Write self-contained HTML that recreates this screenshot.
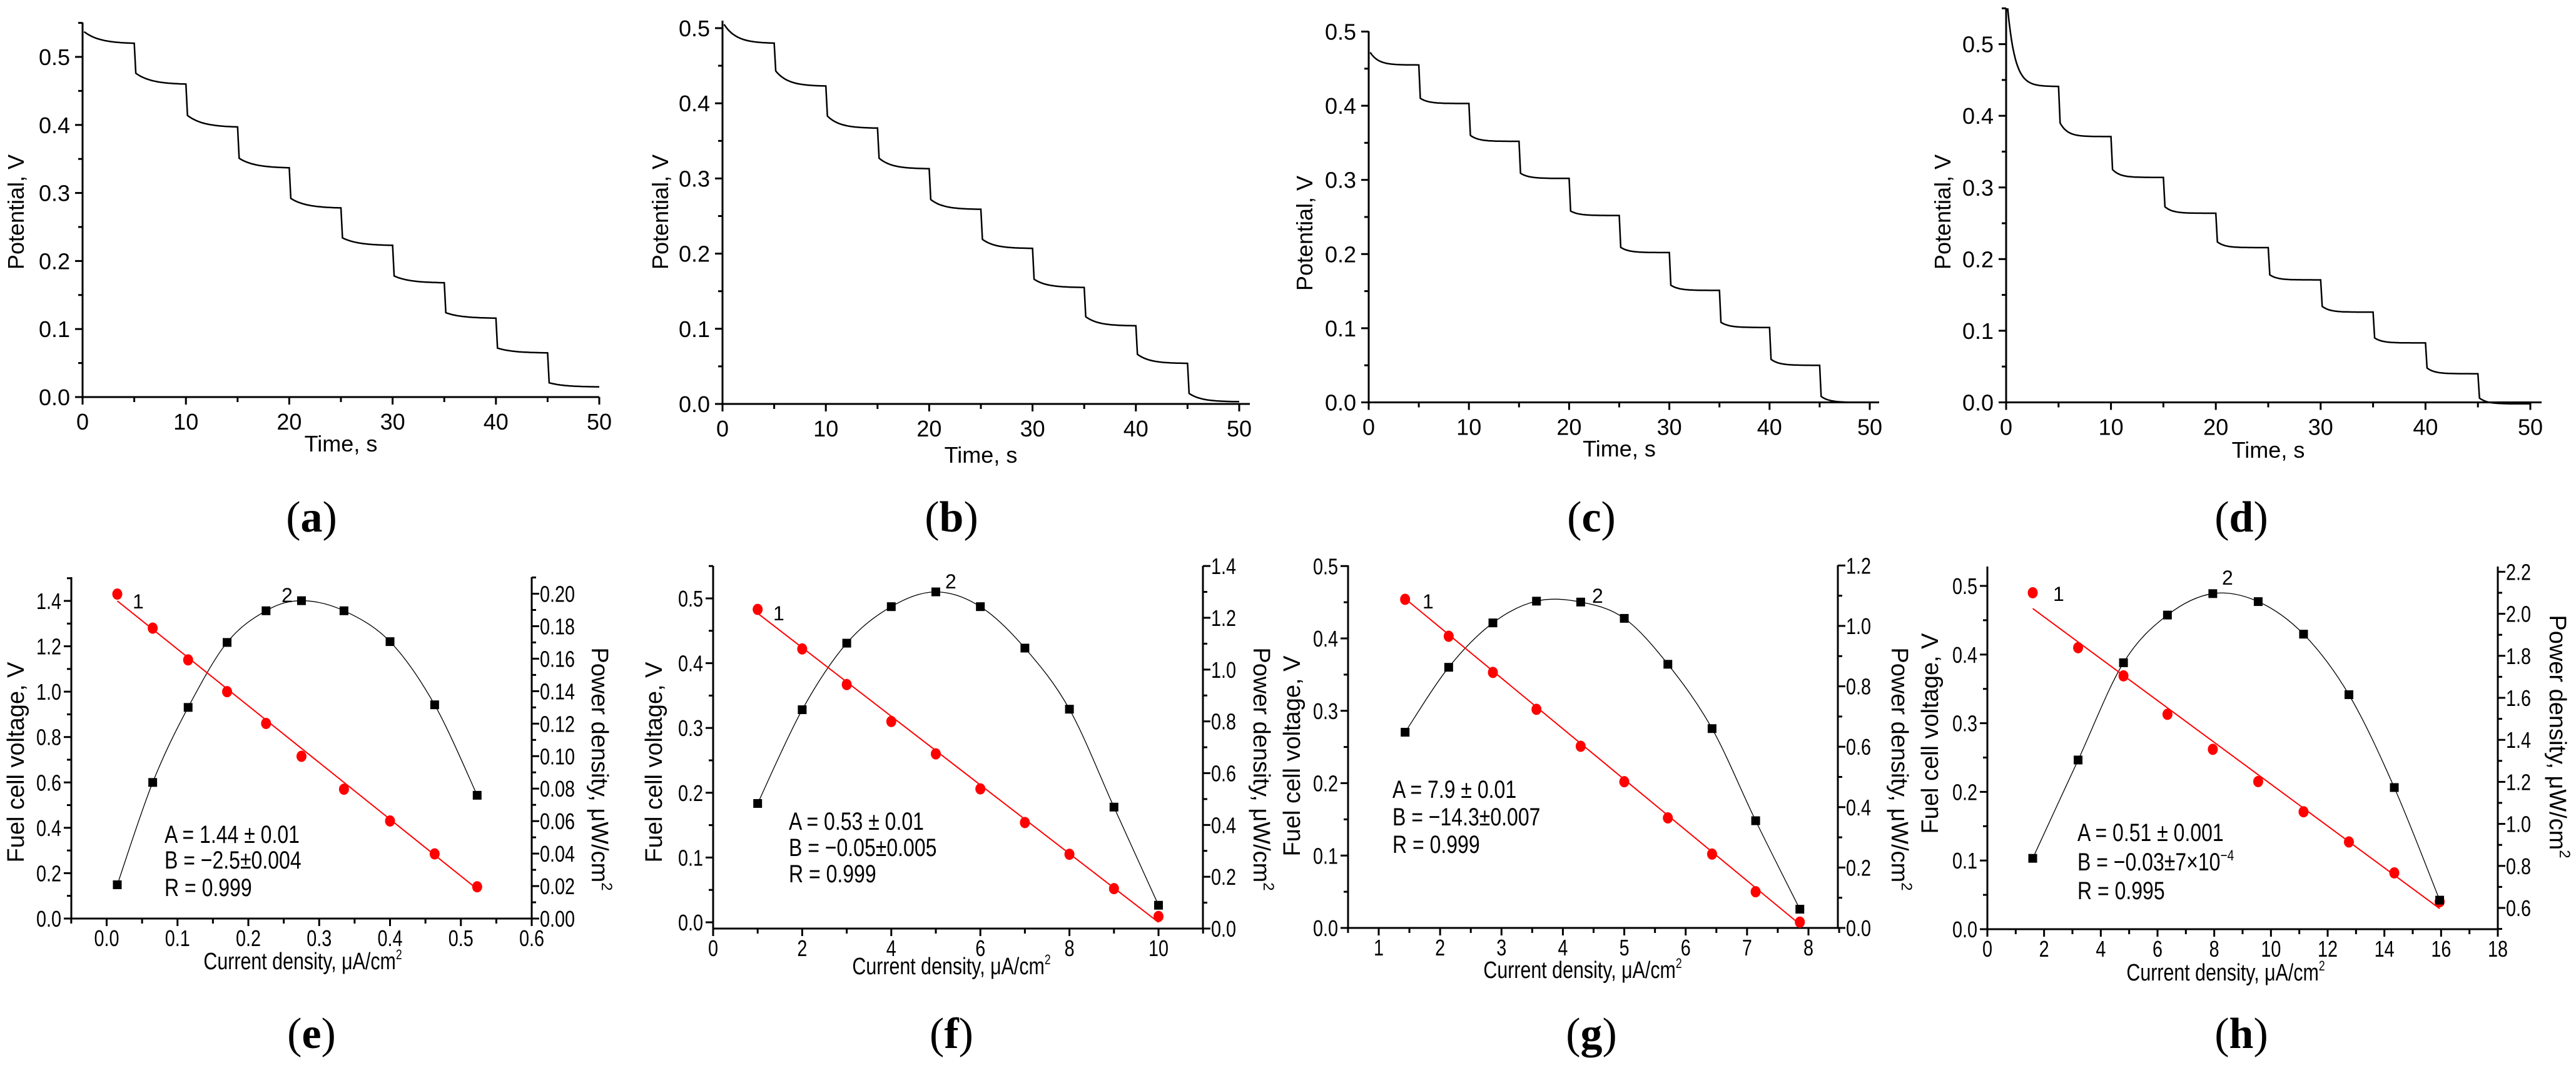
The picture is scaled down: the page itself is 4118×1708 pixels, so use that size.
<!DOCTYPE html>
<html><head><meta charset="utf-8"><style>
html,body{margin:0;padding:0;background:#fff;}
svg{display:block;}
.t{font-family:"Liberation Sans",sans-serif;fill:#000;}
.n{font-family:"Liberation Sans Narrow","Liberation Sans",sans-serif;fill:#000;}
.cap{font-family:"Liberation Serif",serif;fill:#000;font-size:70px;}
</style></head><body>
<svg id="fig" xmlns="http://www.w3.org/2000/svg" width="4118" height="1708" viewBox="0 0 4118 1708"></svg>
<script>
// ---------- data: top panels (step potentials) ----------
const stepTimes = [0,5,10,15,20,25,30,35,40,45];
const aStart = [0.537,0.476,0.414,0.351,0.292,0.234,0.178,0.124,0.072,0.021];
const aEnd   = [0.520,0.460,0.397,0.337,0.278,0.223,0.168,0.116,0.065,0.015];
const bStart = [0.505,0.443,0.383,0.327,0.272,0.219,0.166,0.116,0.066,0.014];
const bEnd   = [0.480,0.423,0.367,0.313,0.259,0.207,0.155,0.104,0.054,0.003];
const cStart = [0.472,0.410,0.360,0.309,0.258,0.209,0.158,0.108,0.058,0.008];
const cEnd   = [0.455,0.403,0.352,0.302,0.252,0.202,0.151,0.101,0.050,0.000];
const dStart = [0.550,0.390,0.325,0.273,0.224,0.178,0.134,0.090,0.048,0.006];
const dEnd   = [0.441,0.371,0.314,0.264,0.216,0.171,0.126,0.083,0.040,-0.002];
const timeTicks = ["0","10","20","30","40","50"];
const potTicks = ["0.0","0.1","0.2","0.3","0.4","0.5"];
// ---------- data: bottom panels ----------
const eX = [0.015,0.065,0.115,0.17,0.225,0.275,0.335,0.4,0.463,0.523];
const eV = [1.43,1.28,1.14,1.0,0.86,0.715,0.57,0.43,0.285,0.14];
const eP = [0.0208,0.0838,0.130,0.170,0.1895,0.1957,0.1895,0.1705,0.1316,0.0759];
const eFit = [1.40,0.13];
const fX = [1,2,3,4,5,6,7,8,9,10];
const fV = [0.483,0.422,0.367,0.310,0.260,0.206,0.154,0.105,0.052,0.009];
const fP = [0.483,0.845,1.102,1.243,1.300,1.243,1.083,0.847,0.469,0.090];
const fFit = [0.477,0.0];
const gX = [1.43,2.14,2.86,3.57,4.29,5.0,5.71,6.43,7.14,7.86];
const gV = [0.454,0.403,0.353,0.302,0.251,0.202,0.152,0.102,0.050,0.008];
const gP = [0.648,0.863,1.010,1.082,1.079,1.025,0.873,0.660,0.355,0.062];
const gFit = [0.455,0.005];
const hX = [1.6,3.2,4.8,6.35,7.95,9.55,11.15,12.75,14.35,15.95];
const hV = [0.490,0.410,0.369,0.313,0.262,0.215,0.171,0.127,0.082,0.040];
const hP = [0.836,1.304,1.767,1.994,2.096,2.058,1.903,1.615,1.173,0.637];
const hFit = [0.467,0.030];

const NS="http://www.w3.org/2000/svg";
const svg=document.getElementById('fig');
function mk(tag,attrs,parent){const e=document.createElementNS(NS,tag);for(const k in attrs)e.setAttribute(k,attrs[k]);(parent||svg).appendChild(e);return e;}
function lin(v0,p0,v1,p1){return v=>p0+(v-v0)*(p1-p0)/(v1-v0);}
function txt(s,x,y,cls,size,anchor,parent){
  let t;
  if(cls==='n'){t=mk('text',{x:0,y:0,class:cls,'font-size':size,'text-anchor':anchor||'start',transform:`translate(${x},${y}) scale(0.8,1)`},parent);}
  else t=mk('text',{x:x,y:y,class:cls,'font-size':size,'text-anchor':anchor||'start'},parent);
  t.textContent=s;return t;}

// ---------- top panels ----------
function topPanel(id,X,Y,xEnd,yTop,starts,ends,tau,titleX,titleY,timeY,capX){
  const g=mk('g',{});
  
  
  const x0=X(0),y0=Y(0);
  const ax=mk('path',{d:`M${x0},${yTop} L${x0},${y0} L${xEnd},${y0}`,fill:'none',stroke:'#000','stroke-width':3},g);
  
  
  for(let v=0;v<=0.551;v+=0.05){const py=Y(v);if(py<yTop-1)continue;const maj=Math.round(v*20)%2===0;
    mk('line',{x1:x0,x2:x0-(maj?12:7),y1:py,y2:py,stroke:'#000','stroke-width':3},g);}
  potTicks.forEach((s,i)=>{const py=Y(i*0.1);if(py<yTop-2)return;
    const t=txt(s,x0-20,py+13,'t',36,'end',g);
    
    });
  for(let v=0;v<=50;v+=5){const px=X(v);mk('line',{x1:px,x2:px,y1:y0,y2:y0+(v%10===0?12:8),stroke:'#000','stroke-width':3},g);}
  timeTicks.forEach((s,i)=>{const t=txt(s,X(i*10),y0+52,'t',36,'middle',g);
    
    });
  let d='';
  starts.forEach((s,i)=>{const t0=stepTimes[i];const e=ends[i];const k=Math.exp(-5/tau);
    for(let j=0;j<=40;j++){const tt=t0+0.15+4.85*j/40;const gg=(Math.exp(-(tt-t0-0.15)/tau)-k)/(1-k);
      const v=e+(s-e)*gg;d+=(d?'L':'M')+X(tt).toFixed(1)+','+Y(v).toFixed(1);}
  });
  const c=mk('path',{d:d,fill:'none',stroke:'#000','stroke-width':2.5},g);
  
  
  const yt=txt('Potential, V',0,0,'t',36,'middle',g);
  yt.setAttribute('transform',`translate(${titleX},${titleY}) rotate(-90)`);
  
  
  const xt=txt('Time, s',(X(0)+X(50))/2,timeY,'t',36,'middle',g);
  
  
  caption(id,capX,850);
}
function caption(id,x,y){
  const t=mk('text',{x:x,y:y,class:'cap','text-anchor':'middle'});
  
  
  t.appendChild(document.createTextNode('('));
  const b=mk('tspan',{'font-weight':'bold'},t);b.textContent=id;
  t.appendChild(document.createTextNode(')'));
}
topPanel('a',lin(0,132,50,958),lin(0,635,0.5,91),958,36,aStart,aEnd,1.5,38,339,722,498);
topPanel('b',lin(0,1155,50,1981),lin(0,646,0.5,45),1998,33,bStart,bEnd,1.2,1068,339,740,1521);
topPanel('c',lin(0,2188,50,2989),lin(0,643.5,0.5,50.5),3004,50,cStart,cEnd,0.8,2098,373,730,2544);
topPanel('d',lin(0,3207,50,4045),lin(0,643.5,0.5,70.6),4063,13,dStart,dEnd,0.7,3118,339,732,3583);

// ---------- bottom panels ----------
function crSpline(pts){let d=`M${pts[0][0]},${pts[0][1]}`;
  for(let i=0;i<pts.length-1;i++){const p0=pts[Math.max(0,i-1)],p1=pts[i],p2=pts[i+1],p3=pts[Math.min(pts.length-1,i+2)];
    const c1=[p1[0]+(p2[0]-p0[0])/6,p1[1]+(p2[1]-p0[1])/6],c2=[p2[0]-(p3[0]-p1[0])/6,p2[1]-(p3[1]-p1[1])/6];
    d+=` C${c1[0].toFixed(1)},${c1[1].toFixed(1)} ${c2[0].toFixed(1)},${c2[1].toFixed(1)} ${p2[0].toFixed(1)},${p2[1].toFixed(1)}`;}
  return d;}
function fmt(v,dec){return v.toFixed(dec);}
function botPanel(o){
  const g=mk('g',{});
  
  
  const {X,Y,Y2}=o;
  const ax=mk('path',{d:`M${o.xl},${o.top} L${o.xl},${o.base} L${o.xr},${o.base} L${o.xr},${o.top}`,fill:'none',stroke:'#000','stroke-width':3},g);
  
  
  for(let v=o.xMinor[0];v<=o.xMinor[1]+1e-9;v+=o.xMinor[2]){const px=X(v);const maj=Math.abs(v/o.xMaj-Math.round(v/o.xMaj))<1e-6;
    mk('line',{x1:px,x2:px,y1:o.base,y2:o.base+(maj?12:8),stroke:'#000','stroke-width':3},g);}
  o.xLabels.forEach(v=>{const t=txt(fmt(v,o.xDec),X(v),o.base+44,'n',36,'middle',g);
    
    });
  for(let v=o.yMinor[0];v<=o.yMinor[1]+1e-9;v+=o.yMinor[2]){const py=Y(v);if(py<o.top-1||py>o.base+1)continue;
    const maj=Math.abs(v/o.yMaj-Math.round(v/o.yMaj))<1e-6;
    mk('line',{x1:o.xl,x2:o.xl-(maj?12:7),y1:py,y2:py,stroke:'#000','stroke-width':3},g);}
  o.yLabels.forEach(v=>{const t=txt(fmt(v,o.yDec),o.xl-16,Y(v)+13,'n',36,'end',g);
    
    });
  for(let v=o.y2Minor[0];v<=o.y2Minor[1]+1e-9;v+=o.y2Minor[2]){const py=Y2(v);if(py<o.top-1||py>o.base+1)continue;
    const maj=Math.abs(v/o.y2Maj-Math.round(v/o.y2Maj))<1e-6;
    mk('line',{x1:o.xr,x2:o.xr+(maj?12:7),y1:py,y2:py,stroke:'#000','stroke-width':3},g);}
  o.y2Labels.forEach(v=>{const t=txt(fmt(v,o.y2Dec),o.xr+13,Y2(v)+13,'n',36,'start',g);
    
    });
  const pts=o.xs.map((x,i)=>[X(x),Y2(o.ps[i])]);
  const pc=mk('path',{d:crSpline(pts),fill:'none',stroke:'#000','stroke-width':1.3},g);
  
  
  const n=o.xs.length-1;
  const fl=mk('line',{x1:X(o.xs[0]),y1:Y(o.fit[0]),x2:X(o.xs[n]),y2:Y(o.fit[1]),stroke:'#ff0000','stroke-width':2},g);
  
  
  o.xs.forEach((x,i)=>{
    const r=mk('ellipse',{cx:X(x),cy:Y(o.vs[i]),rx:8,ry:9,fill:'#ff0000'},g);
    
    
    const s=mk('rect',{x:X(x)-7,y:Y2(o.ps[i])-7,width:14,height:14,fill:'#000'},g);
    
    
  });
  const l1=txt('1',o.l1[0],o.l1[1]+14,'t',32,'start',g);
  
  
  const l2=txt('2',o.l2[0],o.l2[1]+14,'t',32,'start',g);
  
  
  o.ann.forEach((s,i)=>{const t=txt('',o.annX,o.annY[i]+15,'n',40,'start',g);
    
    
    if(Array.isArray(s)){t.appendChild(document.createTextNode(s[0]));const sp=mk('tspan',{'font-size':24,dy:-16},t);sp.textContent=s[1];}
    else t.textContent=s;});
  const xt=txt('Current density, μA/cm',o.xtX,o.xtY,'n',38,'middle',g);
  
  
  const sx=mk('tspan',{'font-size':22,dy:-16},xt);sx.textContent='2';
  const yt=txt('Fuel cell voltage, V',0,0,'t',38,'middle',g);
  yt.setAttribute('transform',`translate(${o.ytX},${o.ytY}) rotate(-90)`);
  
  
  const y2=txt('Power density, μW/cm',0,0,'t',38,'middle',g);
  y2.setAttribute('transform',`translate(${o.y2tX},${o.y2tY}) rotate(90)`);
  
  
  const s2=mk('tspan',{'font-size':24,dy:-16},y2);s2.textContent='2';
  caption(o.id,o.capX,1676);
}
botPanel({id:'e',X:lin(0,170.5,0.6,850),Y:lin(0,1469,1.4,961),Y2:lin(0,1469,0.2,949.5),xl:114,xr:850,base:1469,top:923,
  xMinor:[-0.05,0.6,0.05],xMaj:0.1,xLabels:[0,0.1,0.2,0.3,0.4,0.5,0.6],xDec:1,
  yMinor:[0,1.5,0.1],yMaj:0.2,yLabels:[0,0.2,0.4,0.6,0.8,1.0,1.2,1.4],yDec:1,
  y2Minor:[0,0.21,0.01],y2Maj:0.02,y2Labels:[0,0.02,0.04,0.06,0.08,0.10,0.12,0.14,0.16,0.18,0.20],y2Dec:2,
  xs:eX,vs:eV,ps:eP,fit:eFit,l1:[212,959],l2:[450,949],annX:263,annY:[1333,1374,1418],
  ann:['A  = 1.44 ±  0.01','B = −2.5±0.004','R  = 0.999'],xtX:484,xtY:1550,ytX:38,ytY:1219,y2tX:946,y2tY:1230,capX:498});
botPanel({id:'f',X:lin(0,1140,10,1852),Y:lin(0,1475,0.5,957),Y2:lin(0,1485,1.2,988),xl:1140,xr:1923,base:1485,top:905,
  xMinor:[0,11,1],xMaj:2,xLabels:[0,2,4,6,8,10],xDec:0,
  yMinor:[0,0.55,0.05],yMaj:0.1,yLabels:[0,0.1,0.2,0.3,0.4,0.5],yDec:1,
  y2Minor:[0,1.4,0.1],y2Maj:0.2,y2Labels:[0,0.2,0.4,0.6,0.8,1.0,1.2,1.4],y2Dec:1,
  xs:fX,vs:fV,ps:fP,fit:fFit,l1:[1236,978],l2:[1511,927],annX:1261,annY:[1312,1354,1396],
  ann:['A  = 0.53 ±  0.01','B = −0.05±0.005','R  = 0.999'],xtX:1521,xtY:1558,ytX:1058,ytY:1219,y2tX:2004,y2tY:1230,capX:1521});
botPanel({id:'g',X:lin(1,2204,8,2891),Y:lin(0,1484,0.4,1021),Y2:lin(0,1484,1.0,1001),xl:2155,xr:2938,base:1484,top:904,
  xMinor:[0.5,8.5,0.5],xMaj:1,xLabels:[1,2,3,4,5,6,7,8],xDec:0,
  yMinor:[0,0.5,0.05],yMaj:0.1,yLabels:[0,0.1,0.2,0.3,0.4,0.5],yDec:1,
  y2Minor:[0,1.2,0.1],y2Maj:0.2,y2Labels:[0,0.2,0.4,0.6,0.8,1.0,1.2],y2Dec:1,
  xs:gX,vs:gV,ps:gP,fit:gFit,l1:[2274,959],l2:[2545,950],annX:2226,annY:[1261,1305,1349],
  ann:['A  = 7.9 ±  0.01','B  = −14.3±0.007','R  = 0.999'],xtX:2530,xtY:1564,ytX:2078,ytY:1209,y2tX:3024,y2tY:1230,capX:2544});
botPanel({id:'h',X:lin(0,3177,18,3993),Y:lin(0,1486,0.5,937),Y2:lin(0.6,1452,2.2,914.4),xl:3177,xr:3993,base:1486,top:906,
  xMinor:[0,18,1],xMaj:2,xLabels:[0,2,4,6,8,10,12,14,16,18],xDec:0,
  yMinor:[0,0.53,0.05],yMaj:0.1,yLabels:[0,0.1,0.2,0.3,0.4,0.5],yDec:1,
  y2Minor:[0.5,2.2,0.1],y2Maj:0.2,y2Labels:[0.6,0.8,1.0,1.2,1.4,1.6,1.8,2.0,2.2],y2Dec:1,
  xs:hX,vs:hV,ps:hP,fit:hFit,l1:[3282,947],l2:[3552,921],annX:3321,annY:[1330,1377,1423],
  ann:['A  = 0.51 ±  0.001',['B  = −0.03±7×10','−4'],'R  = 0.995'],xtX:3558,xtY:1568,ytX:3098,ytY:1173,y2tX:4076,y2tY:1178,capX:3583});
</script>
</body></html>
